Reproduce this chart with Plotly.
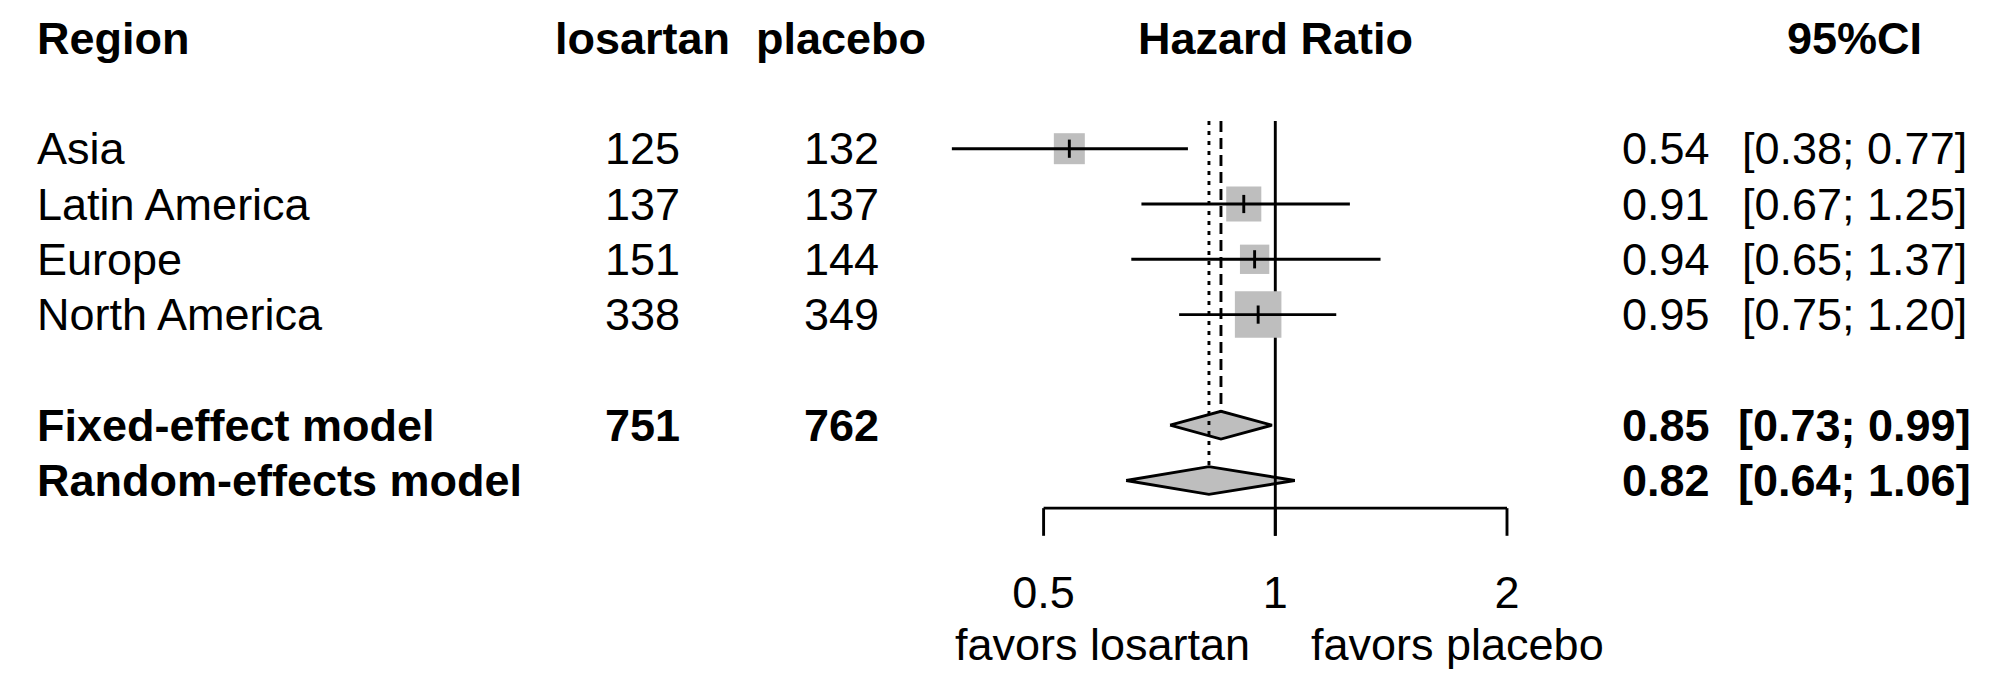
import math
import plotly.graph_objects as go

# ---------------- data ----------------
regions = ["Asia", "Latin America", "Europe", "North America"]
n_losartan = [125, 137, 151, 338]
n_placebo = [132, 137, 144, 349]
hr = [0.54, 0.91, 0.94, 0.95]
hr_lo = [0.38, 0.67, 0.65, 0.75]
hr_hi = [0.77, 1.25, 1.37, 1.20]

models = ["Fixed-effect model", "Random-effects model"]
model_hr = [0.85, 0.82]
model_lo = [0.73, 0.64]
model_hi = [0.99, 1.06]
total_losartan = 751
total_placebo = 762

tick_vals = [0.5, 1, 2]
tick_labels = ["0.5", "1", "2"]
label_left = "favors losartan"
label_right = "favors placebo"
headers = ["Region", "losartan", "placebo", "Hazard Ratio", "95%CI"]

# ---------------- layout helpers ----------------
W, H = 2009, 673
FONT = "Liberation Sans, Arial, Helvetica, sans-serif"
FS = 45
ROW0, ROWH = 38.1, 55.3            # pixel of row 0 and row pitch
LW = 2.9
GRAY = "#BEBEBE"

def px(xpix):
    return xpix / W

study_rows = [2 + i for i in range(len(regions))]
model_rows = [7 + i for i in range(len(models))]
axis_row = 8.5
top_row = 1.5

fig = go.Figure()

# diamonds (drawn first, ref line on top)
for i, r in enumerate(model_rows):
    h = 0.25
    fig.add_trace(go.Scatter(
        x=[model_lo[i], model_hr[i], model_hi[i], model_hr[i], model_lo[i]],
        y=[r, r - h, r, r + h, r],
        mode="lines", fill="toself", fillcolor=GRAY,
        line=dict(color="black", width=LW), hoverinfo="skip", showlegend=False))

# fixed (dashed) and random (dotted) summary lines
fig.add_trace(go.Scatter(x=[model_hr[0], model_hr[0]], y=[top_row, model_rows[0] - 0.25],
                         mode="lines", line=dict(color="black", width=LW, dash="11px,6px"),
                         hoverinfo="skip", showlegend=False))
fig.add_trace(go.Scatter(x=[model_hr[1], model_hr[1]], y=[top_row, model_rows[1] - 0.25],
                         mode="lines", line=dict(color="black", width=LW, dash="4px,6px"),
                         hoverinfo="skip", showlegend=False))

# reference line at 1 (down through the tick)
fig.add_trace(go.Scatter(x=[1, 1], y=[top_row, axis_row + 0.5], mode="lines",
                         line=dict(color="black", width=LW), hoverinfo="skip", showlegend=False))

# x axis line and ticks
fig.add_trace(go.Scatter(x=[tick_vals[0], tick_vals[-1]], y=[axis_row, axis_row], mode="lines",
                         line=dict(color="black", width=LW), hoverinfo="skip", showlegend=False))
for tv in tick_vals:
    fig.add_trace(go.Scatter(x=[tv, tv], y=[axis_row, axis_row + 0.5], mode="lines",
                             line=dict(color="black", width=LW), hoverinfo="skip", showlegend=False))

# squares sized by inverse-variance weight (side ~ sqrt(weight))
sizes = []
for lo, hi in zip(hr_lo, hr_hi):
    se = (math.log(hi) - math.log(lo)) / (2 * 1.96)
    sizes.append(5.58 * math.sqrt(1.0 / se ** 2))
fig.add_trace(go.Scatter(x=hr, y=study_rows, mode="markers",
                         marker=dict(symbol="square", size=sizes, color=GRAY, opacity=1,
                                     line=dict(width=0)),
                         hoverinfo="skip", showlegend=False))

# CI lines
for i, r in enumerate(study_rows):
    fig.add_trace(go.Scatter(x=[hr_lo[i], hr_hi[i]], y=[r, r], mode="lines",
                             line=dict(color="black", width=LW), hoverinfo="skip", showlegend=False))
# point estimate ticks
fig.add_trace(go.Scatter(x=hr, y=study_rows, mode="markers",
                         marker=dict(symbol="line-ns", size=13, opacity=1,
                                     line=dict(color="black", width=2.9)),
                         hoverinfo="skip", showlegend=False))

# tick labels
fig.add_trace(go.Scatter(x=tick_vals, y=[10.1] * len(tick_vals), mode="text", text=tick_labels,
                         textposition="middle center",
                         textfont=dict(family=FONT, size=FS, color="black"),
                         hoverinfo="skip", showlegend=False))

# ---------------- text columns ----------------
ann = []
def add(text, xpix, row, anchor, bold=False):
    ann.append(dict(text=f"<b>{text}</b>" if bold else text, x=px(xpix), xref="paper",
                    y=row, yref="y", xanchor=anchor, yanchor="middle", showarrow=False,
                    font=dict(family=FONT, size=FS, color="black"), borderpad=0))

X_LABEL, X_LOS, X_PLA, X_HR, X_EFF, X_CI = 36, 642, 841, 1275, 1711, 1854

add(headers[0], X_LABEL, 0, "left", True)
add(headers[1], X_LOS, 0, "center", True)
add(headers[2], X_PLA, 0, "center", True)
add(headers[3], X_HR, 0, "center", True)
add(headers[4], X_CI, 0, "center", True)

for i, r in enumerate(study_rows):
    add(regions[i], X_LABEL, r, "left")
    add(str(n_losartan[i]), X_LOS, r, "center")
    add(str(n_placebo[i]), X_PLA, r, "center")
    add(f"{hr[i]:.2f}", X_EFF, r, "right")
    add(f"[{hr_lo[i]:.2f}; {hr_hi[i]:.2f}]", X_CI, r, "center")

for i, r in enumerate(model_rows):
    add(models[i], X_LABEL, r, "left", True)
    if i == 0:
        add(str(total_losartan), X_LOS, r, "center", True)
        add(str(total_placebo), X_PLA, r, "center", True)
    add(f"{model_hr[i]:.2f}", X_EFF, r, "right", True)
    add(f"[{model_lo[i]:.2f}; {model_hi[i]:.2f}]", X_CI, r, "center", True)

add(label_left, 1251, 10.97, "right")
add(label_right, 1310, 10.97, "left")

# ---------------- axes ----------------
px_per_dec = (1507.0 - 1043.6) / math.log10(4)
r0 = -1275.3 / px_per_dec
r1 = r0 + W / px_per_dec
y_top = -ROW0 / ROWH
y_bot = (H - ROW0) / ROWH

fig.update_layout(
    width=W, height=H, margin=dict(l=0, r=0, t=0, b=0),
    paper_bgcolor="white", plot_bgcolor="white",
    xaxis=dict(type="log", range=[r0, r1], visible=False, fixedrange=True),
    yaxis=dict(range=[y_bot, y_top], visible=False, fixedrange=True),
    annotations=ann, showlegend=False,
)

fig.write_html("out.html", config={"displayModeBar": False},
               post_script="document.body.style.margin='0';document.body.style.overflow='hidden';")
